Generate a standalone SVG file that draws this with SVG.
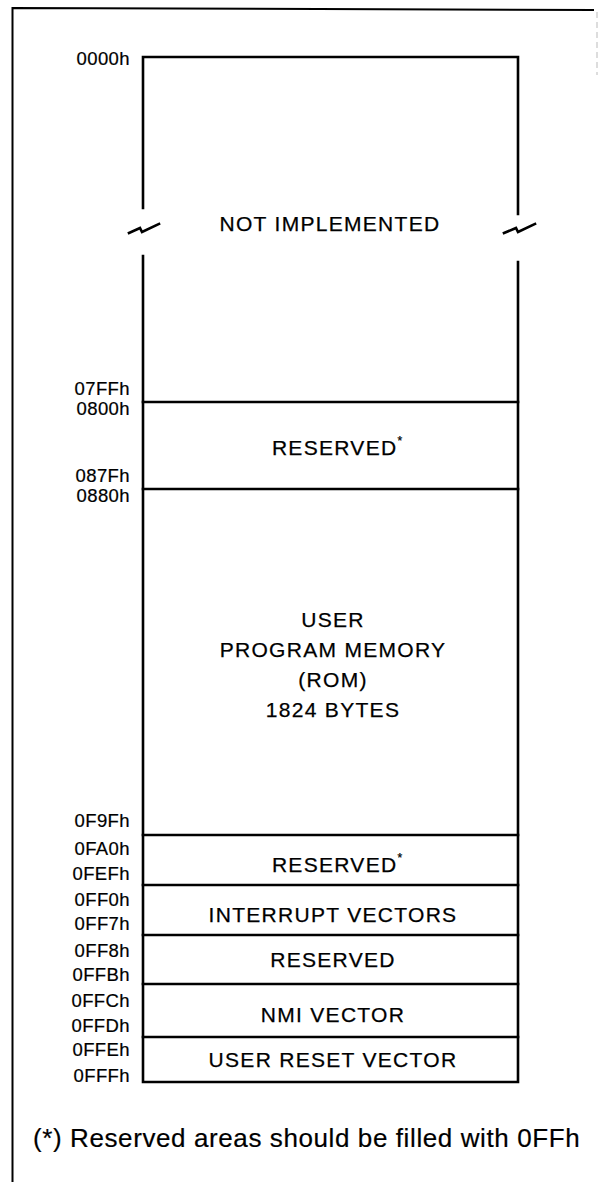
<svg xmlns="http://www.w3.org/2000/svg" width="600" height="1182" viewBox="0 0 600 1182">
<style>
.ln{stroke:#000;stroke-width:2.6;fill:none;stroke-linecap:square}
.fr{stroke:#000;stroke-width:2;fill:none}
.addr{font-family:"Liberation Sans",Arial,sans-serif;font-size:18.5px;letter-spacing:0.4px;text-anchor:end;fill:#000;stroke:#000;stroke-width:0.2}
.lbl{font-family:"Liberation Sans",Arial,sans-serif;font-size:21px;letter-spacing:1.3px;text-anchor:middle;fill:#000;stroke:#000;stroke-width:0.25}
.note{font-family:"Liberation Sans",Arial,sans-serif;font-size:26px;letter-spacing:0.6px;fill:#000;stroke:#000;stroke-width:0.2}
.star{font-size:12px;letter-spacing:0}
</style>
<rect width="600" height="1182" fill="#fff"/>
<g id="frame">
<path class="fr" d="M12.5,1182 L12.5,8 L594,10"/>
<path d="M597,12 L597,75" stroke="#bbb" stroke-width="1" stroke-dasharray="6,4" fill="none"/>
</g>
<g id="connectors">
<path class="ln" d="M143,208 L143,57 L518,57 L518,214"/>
<path class="ln" d="M143,256 L143,1082 L518,1082 L518,262"/>
<path class="ln" d="M129,233 L140,228 L142,232 L159,224"/>
<path class="ln" d="M504,233 L516,228 L518,232 L535,224"/>
<line class="ln" x1="143" y1="402" x2="518" y2="402"/>
<line class="ln" x1="143" y1="489" x2="518" y2="489"/>
<line class="ln" x1="143" y1="835" x2="518" y2="835"/>
<line class="ln" x1="143" y1="885" x2="518" y2="885"/>
<line class="ln" x1="143" y1="935" x2="518" y2="935"/>
<line class="ln" x1="143" y1="984" x2="518" y2="984"/>
<line class="ln" x1="143" y1="1037" x2="518" y2="1037"/>
</g>
<g id="addresses">
<text class="addr" x="130" y="65">0000h</text>
<text class="addr" x="130" y="395">07FFh</text>
<text class="addr" x="130" y="415">0800h</text>
<text class="addr" x="130" y="482">087Fh</text>
<text class="addr" x="130" y="502">0880h</text>
<text class="addr" x="130" y="827">0F9Fh</text>
<text class="addr" x="130" y="855">0FA0h</text>
<text class="addr" x="130" y="880">0FEFh</text>
<text class="addr" x="130" y="906">0FF0h</text>
<text class="addr" x="130" y="930">0FF7h</text>
<text class="addr" x="130" y="957">0FF8h</text>
<text class="addr" x="130" y="981">0FFBh</text>
<text class="addr" x="130" y="1007">0FFCh</text>
<text class="addr" x="130" y="1032">0FFDh</text>
<text class="addr" x="130" y="1056">0FFEh</text>
<text class="addr" x="130" y="1082">0FFFh</text>
</g>
<g id="not-implemented"><text class="lbl" x="330" y="231">NOT IMPLEMENTED</text></g>
<g id="reserved-1"><text class="lbl" x="337" y="455">RESERVED<tspan class="star" dy="-10">*</tspan></text></g>
<g id="user-program-memory">
<text class="lbl" x="333" y="627">USER</text>
<text class="lbl" x="333" y="657">PROGRAM MEMORY</text>
<text class="lbl" x="333" y="687">(ROM)</text>
<text class="lbl" x="333" y="717">1824 BYTES</text>
</g>
<g id="reserved-2"><text class="lbl" x="337" y="872">RESERVED<tspan class="star" dy="-10">*</tspan></text></g>
<g id="interrupt-vectors"><text class="lbl" x="333" y="922">INTERRUPT VECTORS</text></g>
<g id="reserved-3"><text class="lbl" x="333" y="967">RESERVED</text></g>
<g id="nmi-vector"><text class="lbl" x="333" y="1022">NMI VECTOR</text></g>
<g id="user-reset-vector"><text class="lbl" x="333" y="1067">USER RESET VECTOR</text></g>
<g id="footnote"><text class="note" x="33" y="1147">(*) Reserved areas should be filled with 0FFh</text></g>
</svg>
